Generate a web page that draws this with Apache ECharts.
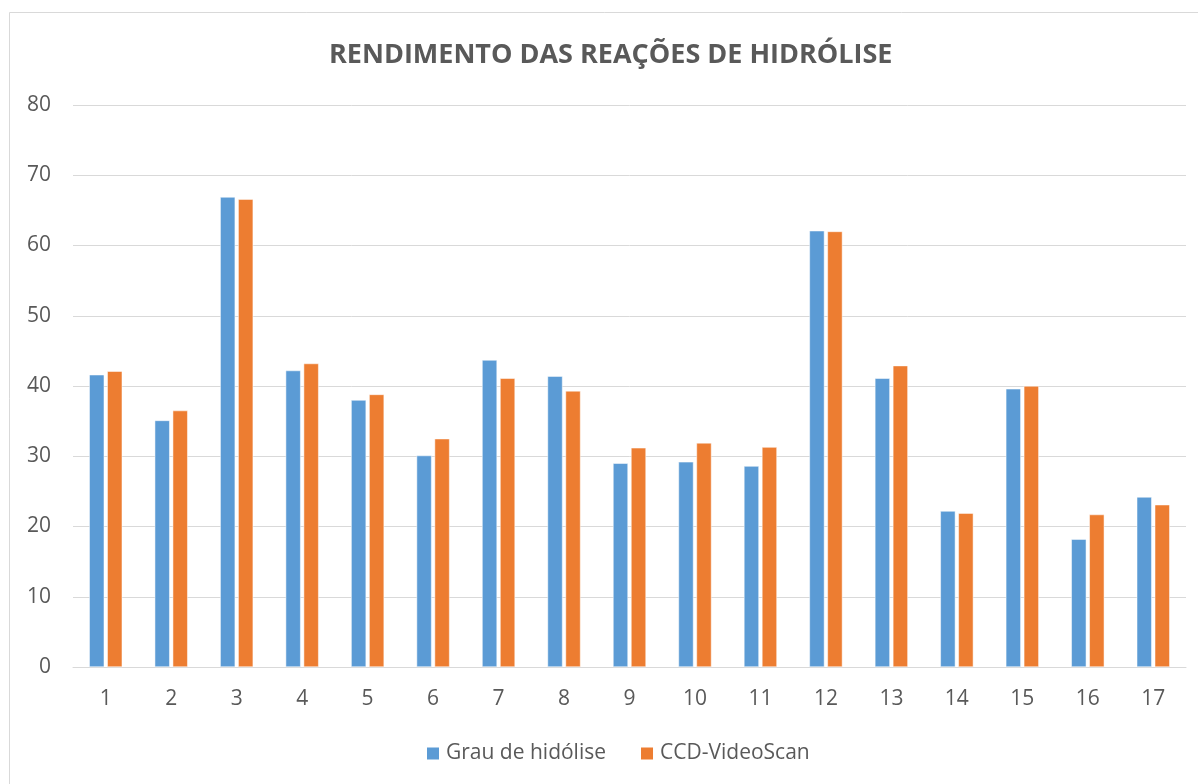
<!DOCTYPE html>
<html>
<head>
<meta charset="utf-8">
<script src="https://cdn.jsdelivr.net/npm/echarts@6/dist/echarts.min.js"></script>
<style>
  html, body { margin: 0; padding: 0; background: #fff; }
  #chart { width: 1198px; height: 784px; }
</style>
</head>
<body>
<div id="chart"></div>
<script>
// Hydrolysis reactions 1–17
const categories = ['1','2','3','4','5','6','7','8','9','10','11','12','13','14','15','16','17'];
const grauHidrolise = [41.6, 35.1, 66.9, 42.2, 38.0, 30.1, 43.7, 41.4, 29.0, 29.2, 28.6, 62.1, 41.1, 22.2, 39.6, 18.2, 24.2];
const ccdVideoScan = [42.1, 36.5, 66.6, 43.2, 38.8, 32.5, 41.1, 39.3, 31.2, 31.9, 31.3, 62.0, 42.9, 21.9, 40.0, 21.7, 23.1];
const seriesNames = ['Grau de hidólise', 'CCD-VideoScan'];
const titleText = 'RENDIMENTO DAS REAÇÕES DE HIDRÓLISE';

const textColor = '#595959';
const fontFamily = '"Open Sans", "Liberation Sans", sans-serif';

const chart = echarts.init(document.getElementById('chart'));
chart.setOption({
  animation: false,
  backgroundColor: '#fff',
  textStyle: { fontFamily: fontFamily, color: textColor },
  title: {
    text: titleText,
    left: 324,
    top: 37,
    textStyle: { fontSize: 27, fontWeight: 'bold', color: textColor, fontFamily: fontFamily }
  },
  graphic: [{
    type: 'rect',
    shape: { x: 9.5, y: 12.5, width: 1200, height: 800 },
    style: { fill: 'none', stroke: '#D9D9D9', lineWidth: 1 },
    silent: true
  }],
  legend: {
    data: seriesNames,
    bottom: 15,
    left: 420,
    itemWidth: 14,
    itemHeight: 14,
    itemGap: 33,
    icon: 'rect',
    textStyle: { fontSize: 21, color: textColor, fontFamily: fontFamily, padding: [0, 0, 0, 1] }
  },
  grid: { left: 73, right: 12, top: 105, bottom: 117 },
  xAxis: {
    type: 'category',
    data: categories,
    axisLine: { lineStyle: { color: '#D9D9D9', width: 1 } },
    axisTick: { show: false },
    axisLabel: { fontSize: 21, color: textColor, margin: 22 }
  },
  yAxis: {
    type: 'value',
    min: 0,
    max: 80,
    interval: 10,
    axisLine: { show: false },
    axisTick: { show: false },
    axisLabel: { fontSize: 21, color: textColor, margin: 22 },
    splitLine: { lineStyle: { color: '#D9D9D9', width: 1 } }
  },
  series: [
    {
      name: seriesNames[0],
      type: 'bar',
      data: grauHidrolise,
      barWidth: 15,
      barGap: '20%',
      itemStyle: { color: '#5B9BD5', borderColor: '#fff', borderWidth: 0.5 }
    },
    {
      name: seriesNames[1],
      type: 'bar',
      data: ccdVideoScan,
      barWidth: 15,
      itemStyle: { color: '#ED7D31', borderColor: '#fff', borderWidth: 0.5 }
    }
  ]
});
</script>
</body>
</html>
